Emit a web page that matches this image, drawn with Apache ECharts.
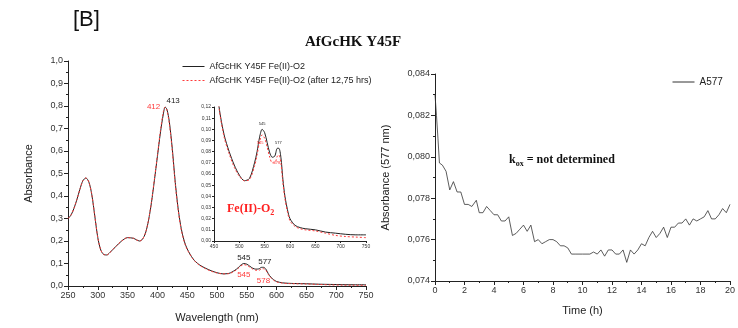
<!DOCTYPE html>
<html>
<head>
<meta charset="utf-8">
<script src="https://cdn.jsdelivr.net/npm/echarts@6/dist/echarts.min.js"></script>
<style>
  html, body { margin: 0; padding: 0; background: #fff; }
  #chart { width: 738px; height: 328px; }
</style>
</head>
<body>
<div id="chart"></div>
<script>
// spectrum: wavelength (nm)
var wavelengths = [250,255,260,265,270,275,280,285,290,295,300,305,310,315,320,330,340,350,360,365,370,375,380,385,390,395,400,405,410,413,416,420,425,430,435,440,445,450,460,470,480,490,500,510,520,530,535,540,545,550,555,560,565,570,575,578,582,586,590,595,600,610,620,630,650,670,690,710,730,750];
// Fe(II)-O2
var absFresh = [0.300,0.315,0.345,0.385,0.430,0.468,0.480,0.462,0.405,0.310,0.215,0.160,0.140,0.138,0.148,0.175,0.200,0.215,0.212,0.205,0.200,0.208,0.235,0.290,0.370,0.470,0.575,0.680,0.765,0.795,0.785,0.730,0.610,0.460,0.340,0.255,0.200,0.165,0.120,0.095,0.080,0.068,0.059,0.054,0.056,0.070,0.080,0.093,0.100,0.097,0.088,0.079,0.075,0.076,0.083,0.083,0.075,0.055,0.040,0.028,0.020,0.014,0.012,0.011,0.010,0.008,0.007,0.006,0.0055,0.0055];
// Fe(II)-O2 after 12,75 hrs
var absAged = [0.300,0.315,0.345,0.385,0.430,0.468,0.480,0.462,0.405,0.310,0.215,0.160,0.140,0.138,0.148,0.175,0.200,0.215,0.212,0.205,0.200,0.208,0.236,0.292,0.374,0.475,0.580,0.688,0.775,0.795,0.780,0.722,0.600,0.452,0.335,0.250,0.197,0.162,0.119,0.093,0.078,0.066,0.058,0.054,0.055,0.067,0.077,0.089,0.095,0.092,0.084,0.075,0.070,0.070,0.076,0.077,0.070,0.052,0.038,0.026,0.018,0.013,0.011,0.010,0.009,0.007,0.005,0.004,0.0035,0.003];

// kinetics at 577 nm
var timeH = [0,0.1,0.2,0.3,0.5,0.75,1.0,1.25,1.5,1.75,2.0,2.25,2.5,2.8,3.0,3.25,3.5,3.75,4.0,4.25,4.5,4.75,5.0,5.25,5.5,5.75,6.0,6.25,6.5,6.75,7.0,7.25,7.5,7.75,8.0,8.25,8.5,8.75,9.0,9.25,9.5,10.0,10.5,10.75,11.0,11.25,11.5,11.75,12.0,12.25,12.5,12.75,13.0,13.25,13.5,13.75,14.0,14.25,14.5,14.75,15.0,15.25,15.5,15.75,16.0,16.25,16.5,16.75,17.0,17.25,17.5,17.75,18.0,18.25,18.5,18.75,19.0,19.25,19.5,19.75,20.0];
var a577 = [0.0830,0.0820,0.0809,0.0797,0.0796,0.0793,0.0784,0.0788,0.0783,0.0783,0.0777,0.0777,0.0776,0.0779,0.0773,0.0773,0.0776,0.0774,0.0772,0.0772,0.0769,0.0769,0.0771,0.0762,0.0763,0.0765,0.0767,0.0764,0.0767,0.0759,0.0760,0.0758,0.0759,0.0760,0.0760,0.0759,0.0757,0.0757,0.0756,0.0753,0.0753,0.0753,0.0753,0.0754,0.0753,0.0755,0.0752,0.0755,0.0755,0.0753,0.0753,0.0755,0.0749,0.0755,0.0753,0.0755,0.0758,0.0757,0.0761,0.0764,0.0761,0.0763,0.0766,0.0761,0.0766,0.0766,0.0768,0.0768,0.0770,0.0767,0.0770,0.0769,0.0770,0.0771,0.0774,0.0770,0.0770,0.0772,0.0775,0.0773,0.0777];

// peak labels
var peaksFresh = [[413, 0.795], [545, 0.100], [577, 0.083]];
var peaksAged = [[412, 0.795], [545, 0.095], [578, 0.077]];

var nameFresh = 'AfGcHK Y45F Fe(II)-O2';
var nameAged = 'AfGcHK Y45F Fe(II)-O2 (after 12,75 hrs)';

function pairs(xs, ys) {
    return xs.map(function (x, i) { return [x, ys[i]]; });
}
function comma(d) {
    return function (v) { return v.toFixed(d).replace('.', ','); };
}

var FONT = 'Liberation Sans';
var axisCol = '#222';

function axis(opts) {
    var base = {
        type: 'value',
        axisLine: { show: true, onZero: false, lineStyle: { color: axisCol, width: 1 } },
        axisTick: { show: true, length: 4, lineStyle: { color: axisCol } },
        minorTick: { show: true, splitNumber: 2, length: 2, lineStyle: { color: axisCol } },
        splitLine: { show: false },
        axisLabel: { color: '#333', fontFamily: FONT, fontSize: 9, margin: 5 },
        nameTextStyle: { color: '#222', fontFamily: FONT, fontSize: 10 }
    };
    for (var k in opts) {
        if (typeof opts[k] === 'object' && base[k] && !Array.isArray(opts[k])) {
            base[k] = Object.assign({}, base[k], opts[k]);
        } else {
            base[k] = opts[k];
        }
    }
    return base;
}

function peakMarks(list, color, size, offsets) {
    return {
        symbol: 'circle',
        symbolSize: 0,
        silent: true,
        data: list.map(function (p, i) {
            return {
                coord: p,
                label: {
                    show: true, formatter: String(p[0]), color: color,
                    fontFamily: FONT, fontSize: size, offset: offsets[i]
                }
            };
        })
    };
}

var chart = echarts.init(document.getElementById('chart'));

// legend: line only, hide the symbol
var legendBase = {
    padding: 0,
    itemStyle: { color: 'transparent', borderWidth: 0, opacity: 0 },
    lineStyle: { width: 1 },
    textStyle: { fontFamily: FONT, color: '#222' }
};

var option = {
    animation: false,
    backgroundColor: '#fff',
    title: [
        { text: '[B]', left: 68, top: 4, textStyle: { fontFamily: FONT, fontSize: 22, fontWeight: 'normal', color: '#111' } },
        { text: 'AfGcHK Y45F', left: 300, top: 30, textStyle: { fontFamily: 'Liberation Serif', fontSize: 15, fontWeight: 'bold', color: '#111' } }
    ],
    legend: [
        Object.assign({}, legendBase, {
            data: [nameFresh, nameAged],
            orient: 'vertical', left: 182, top: 62, itemGap: 5,
            itemWidth: 22, itemHeight: 9,
            textStyle: { fontFamily: FONT, fontSize: 9, color: '#222' }
        }),
        Object.assign({}, legendBase, {
            data: ['A577'],
            left: 672, top: 77, itemWidth: 22, itemHeight: 9,
            textStyle: { fontFamily: FONT, fontSize: 10, color: '#222' }
        })
    ],
    grid: [
        { left: 68, right: 372, top: 61, bottom: 42 },
        { left: 214, right: 372, top: 107, bottom: 87 },
        { left: 435, right: 8, top: 74, bottom: 47 }
    ],
    xAxis: [
        axis({ gridIndex: 0, min: 250, max: 750, interval: 50, name: 'Wavelength (nm)', nameLocation: 'middle', nameGap: 26,
               nameTextStyle: { fontSize: 11 } }),
        axis({ gridIndex: 1, min: 450, max: 750, interval: 50,
               axisTick: { length: 2 }, minorTick: { show: false },
               axisLabel: { fontSize: 5, margin: 3 } }),
        axis({ gridIndex: 2, min: 0, max: 20, interval: 2, name: 'Time (h)', nameLocation: 'middle', nameGap: 24,
               nameTextStyle: { fontSize: 11 } })
    ],
    yAxis: [
        axis({ gridIndex: 0, min: 0, max: 1, interval: 0.1, name: 'Absorbance', nameLocation: 'middle', nameGap: 34,
               axisLabel: { formatter: comma(1) }, nameTextStyle: { fontSize: 11 } }),
        axis({ gridIndex: 1, min: 0, max: 0.12, interval: 0.01,
               axisTick: { length: 2 }, minorTick: { show: false },
               axisLabel: { formatter: comma(2), fontSize: 5, margin: 3 } }),
        axis({ gridIndex: 2, min: 0.074, max: 0.084, interval: 0.002, name: 'Absorbance (577 nm)', nameLocation: 'middle', nameGap: 44,
               axisLabel: { formatter: comma(3) }, nameTextStyle: { fontSize: 11 } })
    ],
    series: [
        {
            name: nameFresh, type: 'line', xAxisIndex: 0, yAxisIndex: 0,
            data: pairs(wavelengths, absFresh), showSymbol: false, symbol: 'none', smooth: 0.3,
            lineStyle: { color: '#222', width: 1 }, itemStyle: { color: '#222' },
            markPoint: peakMarks(peaksFresh, '#222', 8, [[8, -6], [0, -6], [2, -6]])
        },
        {
            name: nameAged, type: 'line', xAxisIndex: 0, yAxisIndex: 0,
            data: pairs(wavelengths, absAged), showSymbol: false, symbol: 'none', smooth: 0.3,
            lineStyle: { color: '#ff3b3b', width: 1, type: [2, 2] }, itemStyle: { color: '#ff3b3b' },
            markPoint: peakMarks(peaksAged, '#ff3b3b', 8, [[-11, 0], [0, 10], [0, 12]])
        },
        {
            name: nameFresh, type: 'line', xAxisIndex: 1, yAxisIndex: 1,
            data: pairs(wavelengths, absFresh), showSymbol: false, symbol: 'none', smooth: 0.3,
            lineStyle: { color: '#222', width: 1 },
            markPoint: peakMarks(peaksFresh.slice(1), '#222', 4, [[0, -5], [0, -5]])
        },
        {
            name: nameAged, type: 'line', xAxisIndex: 1, yAxisIndex: 1,
            data: pairs(wavelengths, absAged), showSymbol: false, symbol: 'none', smooth: 0.3,
            lineStyle: { color: '#ff3b3b', width: 1, type: [2, 2] },
            markPoint: peakMarks(peaksAged.slice(1), '#ff3b3b', 4, [[-2, 8], [-2, 8]])
        },
        {
            name: 'A577', type: 'line', xAxisIndex: 2, yAxisIndex: 2,
            data: pairs(timeH, a577), showSymbol: false, symbol: 'none',
            lineStyle: { color: '#333', width: 0.8 }, itemStyle: { color: '#333' }
        }
    ],
    graphic: [
        {
            type: 'text', left: 227, top: 203,
            style: {
                text: '{b|Fe(II)-O}{s|2}',
                rich: {
                    b: { fontFamily: 'Liberation Serif', fontWeight: 'bold', fontSize: 12, fill: '#ff2020' },
                    s: { fontFamily: 'Liberation Serif', fontWeight: 'bold', fontSize: 8, fill: '#ff2020', padding: [8, 0, 0, 0] }
                }
            }
        },
        {
            type: 'text', left: 509, top: 154,
            style: {
                text: '{b|k}{s|ox}{b| = not determined}',
                rich: {
                    b: { fontFamily: 'Liberation Serif', fontWeight: 'bold', fontSize: 12, fill: '#111' },
                    s: { fontFamily: 'Liberation Serif', fontWeight: 'bold', fontSize: 8, fill: '#111', padding: [7, 0, 0, 0] }
                }
            }
        }
    ]
};

chart.setOption(option);
</script>
</body>
</html>
